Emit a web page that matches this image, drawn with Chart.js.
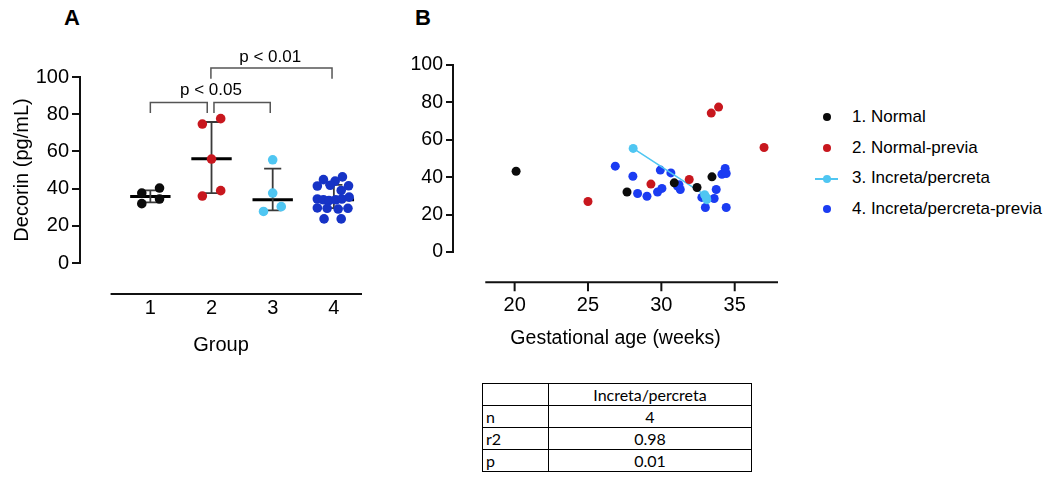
<!DOCTYPE html>
<html lang="en">
<head>
  <meta charset="UTF-8">
  <title>Decorin by group and gestational age</title>
  <script src="https://cdn.jsdelivr.net/npm/chart.js"></script>
  <style>
    body { margin: 0; width: 1050px; height: 479px; position: relative; overflow: hidden; background: #fff;
           font-family: "Liberation Sans", Arial, sans-serif; color: #000; }
    .panel-label { position: absolute; font-weight: bold; font-size: 22px; }
    #chartA { position: absolute; left: 0; top: 0; }
    #chartB { position: absolute; left: 400px; top: 0; }
    #legend { position: absolute; left: 815px; top: 102px; font-size: 17px; }
    .item { position: relative; height: 30.7px; line-height: 30.7px; padding-left: 37px; white-space: nowrap; }
    .dot { position: absolute; left: 7.7px; top: 11.4px; width: 8px; height: 8px; border-radius: 50%; }
    .line { position: absolute; left: 0; top: 14.4px; width: 23px; height: 2px; }
    #stats { position: absolute; left: 482px; top: 383px; border-collapse: collapse;
             font-family: Lato, "Open Sans", sans-serif; font-size: 16px; }
    #stats td { border: 1.5px solid #000; height: 21px; padding: 0 3px; line-height: 21px; }
    #stats td:first-child { width: 59px; }
    #stats td:last-child { width: 196px; text-align: center; }
  </style>
</head>
<body>
  <div class="panel-label" style="left:64px;top:5px">A</div>
  <div class="panel-label" style="left:415px;top:5px">B</div>

  <canvas id="chartA" width="400" height="380"></canvas>
  <canvas id="chartB" width="400" height="370"></canvas>

  <div id="legend"></div>

  <table id="stats">
    <tr><td></td><td>Increta/percreta</td></tr>
    <tr><td>n</td><td>4</td></tr>
    <tr><td>r2</td><td>0.98</td></tr>
    <tr><td>p</td><td>0.01</td></tr>
  </table>

  <script>
    // ---- panel A: decorin by group ----
    const groupLabels = ['1', '2', '3', '4'];
    const groupColors = ['#0b0b0b', '#c8171e', '#4fc6f2', '#1633c6'];

    const group1Values = [37.6, 40.3, 31.9, 34.4];
    const group1Jitter = [-0.14, 0.15, -0.14, 0.15];
    const group2Values = [74.7, 77.6, 55.9, 36.0, 38.9];
    const group2Jitter = [-0.15, 0.15, 0, -0.15, 0.15];
    const group3Values = [55.5, 37.6, 27.7, 30.3];
    const group3Jitter = [0, 0, -0.15, 0.14];
    const group4Values = [44.8, 44.0, 46.3, 41.4, 41.8, 41.5, 39.0, 34.4, 34.0, 33.6, 34.0, 34.4, 35.4,
                          29.6, 29.4, 29.0, 29.4, 23.7, 23.7];
    const group4Jitter = [-0.17, 0.02, 0.14, -0.27, -0.06, 0.24, 0.12, -0.27, -0.17, -0.08, 0.03, 0.13, 0.25,
                          -0.27, -0.11, 0.07, 0.23, -0.16, 0.12];

    const groupMedians = [35.8, 56.0, 34.0, 34.0];
    const groupLow = [32.6, 37.6, 28.3, 29.5];
    const groupHigh = [39.0, 75.8, 50.7, 42.0];

    // [from group, to group, height, leg bottom]
    const sigBrackets = [[1.0, 1.93, 86.3, 80.6], [2.04, 2.96, 86.3, 80.6], [1.99, 3.97, 104.8, 99.0]];
    const sigLabels = ['p < 0.05', 'p < 0.01'];
    const sigLabelX = [1.99, 2.96];
    const sigLabelY = [92.9, 110.6];

    // ---- panel B: decorin vs gestational age ----
    const seriesNames = ['1. Normal', '2. Normal-previa', '3. Increta/percreta', '4. Increta/percreta-previa'];
    const seriesColors = ['#0b0b0b', '#c8171e', '#4fc6f2', '#1b3cf2'];
    const normalAge = [20.1, 27.66, 30.88, 32.43, 33.45];
    const normalDecorin = [43.2, 32.1, 37.0, 34.5, 40.2];
    const previaAge = [25.0, 29.29, 31.9, 33.4, 33.9, 37.0];
    const previaDecorin = [27.0, 36.3, 38.8, 74.3, 77.5, 55.9];
    const accretaAge = [28.08, 32.95, 33.05, 33.1];
    const accretaDecorin = [55.4, 30.6, 29.3, 28.0];
    const accretaPreviaAge = [26.86, 28.06, 28.38, 29.02, 29.93, 30.65, 29.74, 30.04, 31.1, 31.29, 31.2,
                              32.76, 33.0, 33.6, 33.74, 34.13, 34.35, 34.42, 34.42];
    const accretaPreviaDecorin = [45.9, 40.5, 31.3, 29.8, 43.8, 42.3, 32.1, 34.0, 35.2, 33.4, 36.0,
                                  29.2, 23.8, 28.6, 33.4, 41.6, 44.7, 42.0, 23.8];
    const ageTicks = [20, 25, 30, 35];

    Chart.defaults.font.family = '"Liberation Sans", Arial, sans-serif';
    Chart.defaults.color = '#000';

    const toPoints = (xs, ys) => xs.map((x, i) => ({ x, y: ys[i] }));
    const jittered = (g, vals, jit) => vals.map((v, i) => ({ x: g + jit[i], y: v }));

    // segments separated by null gaps
    const medianPts = [];
    const errorPts = [];
    groupMedians.forEach((m, i) => {
      const g = i + 1;
      medianPts.push({ x: g - 0.33, y: m }, { x: g + 0.33, y: m }, { x: g, y: null });
      errorPts.push({ x: g, y: groupLow[i] }, { x: g, y: groupHigh[i] }, { x: g, y: null },
                    { x: g - 0.14, y: groupLow[i] }, { x: g + 0.14, y: groupLow[i] }, { x: g, y: null },
                    { x: g - 0.14, y: groupHigh[i] }, { x: g + 0.14, y: groupHigh[i] }, { x: g, y: null });
    });
    const bracketPts = [];
    sigBrackets.forEach(([a, b, h, leg]) => {
      bracketPts.push({ x: a, y: leg }, { x: a, y: h }, { x: b, y: h }, { x: b, y: leg }, { x: b, y: null });
    });

    const pointSet = (data, color, r) => ({
      data, backgroundColor: color, borderColor: color, pointRadius: r, pointBorderWidth: 0, order: 0
    });
    const lineSet = (data, color, w, extra) => Object.assign({
      data, showLine: true, spanGaps: false, borderColor: color, borderWidth: w, pointRadius: 0, order: 1
    }, extra);

    const axisA = {
      id: 'axisA',
      afterDraw(chart) {
        const { ctx, chartArea, scales: { x, y } } = chart;
        ctx.save();
        ctx.strokeStyle = '#111';
        ctx.lineWidth = 2;
        const yy = y.getPixelForValue(-16.7);
        ctx.beginPath();
        ctx.moveTo(x.getPixelForValue(0.35), yy);
        ctx.lineTo(chartArea.right, yy);
        ctx.stroke();
        ctx.fillStyle = '#000';
        ctx.font = '17px "Liberation Sans", Arial, sans-serif';
        ctx.textAlign = 'center';
        ctx.textBaseline = 'middle';
        sigLabels.forEach((t, i) => ctx.fillText(t, x.getPixelForValue(sigLabelX[i]), y.getPixelForValue(sigLabelY[i])));
        ctx.restore();
      }
    };

    new Chart(document.getElementById('chartA'), {
      type: 'scatter',
      data: {
        datasets: [
          pointSet(jittered(1, group1Values, group1Jitter), groupColors[0], 4.8),
          pointSet(jittered(2, group2Values, group2Jitter), groupColors[1], 4.8),
          pointSet(jittered(3, group3Values, group3Jitter), groupColors[2], 4.8),
          pointSet(jittered(4, group4Values, group4Jitter), groupColors[3], 4.8),
          lineSet(errorPts, '#3a3a3a', 1.8),
          lineSet(medianPts, '#000', 3),
          lineSet(bracketPts, '#555', 1.5, { clip: false })
        ]
      },
      options: {
        responsive: false,
        animation: false,
        layout: { padding: { top: 77, right: 38, bottom: 23, left: 0 } },
        plugins: { legend: { display: false }, tooltip: { enabled: false } },
        scales: {
          x: {
            type: 'linear', min: -0.15, max: 4.46,
            afterBuildTicks: s => { s.ticks = groupLabels.map((_, i) => ({ value: i + 1 })); },
            afterFit: s => { s.height = 94; },
            grid: { display: false },
            border: { display: false },
            ticks: { padding: 25, font: { size: 20 }, callback: v => groupLabels[v - 1] },
            title: { display: true, text: 'Group', font: { size: 20 }, padding: 0 }
          },
          y: {
            min: 0, max: 100,
            afterFit: s => { s.width = 80; },
            ticks: { stepSize: 20, padding: 3, font: { size: 20 } },
            grid: { drawOnChartArea: false, tickLength: 8, color: '#111', lineWidth: 2 },
            border: { color: '#111', width: 2 },
            title: { display: true, text: 'Decorin (pg/mL)', font: { size: 20 }, padding: { top: 10, bottom: 0 } }
          }
        }
      },
      plugins: [axisA]
    });

    const axisB = {
      id: 'axisB',
      afterDraw(chart) {
        const { ctx, chartArea, scales: { x, y } } = chart;
        const yy = y.getPixelForValue(-16.2);
        ctx.save();
        ctx.strokeStyle = '#111';
        ctx.lineWidth = 2;
        ctx.beginPath();
        ctx.moveTo(x.getPixelForValue(18), yy);
        ctx.lineTo(chartArea.right, yy);
        ageTicks.forEach(t => {
          const px = x.getPixelForValue(t);
          ctx.moveTo(px, yy);
          ctx.lineTo(px, yy + 9);
        });
        ctx.stroke();
        ctx.restore();
      }
    };

    new Chart(document.getElementById('chartB'), {
      type: 'scatter',
      data: {
        datasets: [
          pointSet(toPoints(normalAge, normalDecorin), seriesColors[0], 4.5),
          pointSet(toPoints(previaAge, previaDecorin), seriesColors[1], 4.5),
          Object.assign(pointSet(toPoints(accretaAge, accretaDecorin), seriesColors[2], 4.5),
                        { showLine: true, borderWidth: 1.5 }),
          pointSet(toPoints(accretaPreviaAge, accretaPreviaDecorin), seriesColors[3], 4.5)
        ]
      },
      options: {
        responsive: false,
        animation: false,
        layout: { padding: { top: 65, right: 22, bottom: 20, left: 0 } },
        plugins: { legend: { display: false }, tooltip: { enabled: false } },
        scales: {
          x: {
            type: 'linear', min: 15.8, max: 37.95,
            afterBuildTicks: s => { s.ticks = ageTicks.map(v => ({ value: v })); },
            afterFit: s => { s.height = 98; },
            grid: { display: false },
            border: { display: false },
            ticks: { padding: 33, font: { size: 20 } },
            title: { display: true, text: 'Gestational age (weeks)', font: { size: 19.5 }, padding: 0 }
          },
          y: {
            min: 0, max: 100,
            afterFit: s => { s.width = 53; },
            ticks: { stepSize: 20, padding: 3, font: { size: 19.5 } },
            grid: { drawOnChartArea: false, tickLength: 7, color: '#111', lineWidth: 2 },
            border: { color: '#111', width: 2 }
          }
        }
      },
      plugins: [axisB]
    });

    // legend for panel B
    const legend = document.getElementById('legend');
    seriesNames.forEach((name, i) => {
      const row = document.createElement('div');
      row.className = 'item';
      const line = i === 2 ? `<span class="line" style="background:${seriesColors[i]}"></span>` : '';
      row.innerHTML = `${line}<span class="dot" style="background:${seriesColors[i]}"></span>${name}`;
      legend.appendChild(row);
    });
  </script>
</body>
</html>
